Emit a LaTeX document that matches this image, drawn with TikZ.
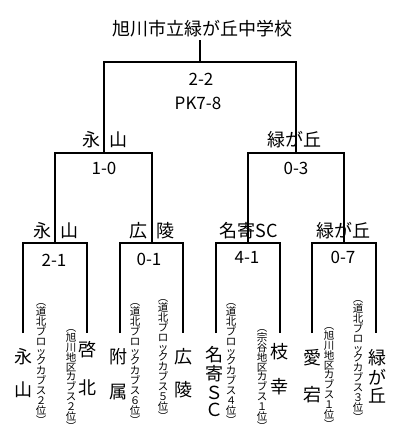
\documentclass[tikz,border=0pt]{standalone}
\usepackage{fontspec}
\setmainfont{Noto Sans CJK JP}
\begin{document}
\begin{tikzpicture}[x=1pt,y=-1pt,line width=1.1pt,
  big/.style={font=\fontsize{18}{18}\selectfont,inner sep=0},
  score/.style={font=\fontsize{17}{17}\selectfont,inner sep=0},
  anno/.style={font=\fontsize{10.5}{9.9}\selectfont,inner sep=0,align=center}]
\useasboundingbox (0,0) rectangle (410,439);
% title
\node[big] (title) at (202,29) {旭川市立緑が丘中学校};
\coordinate (t0) at (200,40);
\coordinate (f) at (200,62);
\coordinate (fL) at (104,62);
\coordinate (fR) at (296,62);
\coordinate (sL) at (104,153);
\coordinate (sR) at (296,153);
\draw (t0) -- (f);
\draw (sL) -- (fL) -- (fR) -- (sR);
\node[score] (s0) at (201,79) {2-2};
\node[score] (s0b) at (198,103) {PK7-8};
\node[big] (w1) at (105,140) {永\hspace{9pt}山};
\node[big] (w2) at (294,140) {緑が丘};
% level 2
\coordinate (aL) at (55,153);
\coordinate (aR) at (152,153);
\coordinate (bL) at (248,153);
\coordinate (bR) at (344,153);
\coordinate (aL2) at (55,243);
\coordinate (aR2) at (152,243);
\coordinate (bL2) at (248,243);
\coordinate (bR2) at (344,243);
\draw (aL2) -- (aL) -- (aR) -- (aR2);
\draw (bL2) -- (bL) -- (bR) -- (bR2);
\node[score] (s1) at (104,168) {1-0};
\node[score] (s2) at (296,168) {0-3};
\node[big] (w3) at (56,231) {永\hspace{9pt}山};
\node[big] (w4) at (152,231) {広\hspace{9pt}陵};
\node[big] (w5) at (249,231) {名寄SC};
\node[big] (w6) at (343,231) {緑が丘};
% level 3
\foreach \a/\b/\n in {23/87/1,120/183/2,216/280/3,312/376/4}{
  \coordinate (c\n L) at (\a,243);
  \coordinate (c\n R) at (\b,243);
  \coordinate (c\n Lb) at (\a,333);
  \coordinate (c\n Rb) at (\b,333);
  \draw (c\n Lb) -- (c\n L) -- (c\n R) -- (c\n Rb);
}
\node[score] (s3) at (54,260) {2-1};
\node[score] (s4) at (149,259) {0-1};
\node[score] (s5) at (247,257) {4-1};
\node[score] (s6) at (343,257) {0-7};
% teams
\node[big] (n1a) at (23,357) {永};
\node[big] (n1b) at (23,390) {山};
\node[anno] (a1) at (41,364) {︵\\道\\北\\ブ\\ロ\\ッ\\ク\\カ\\ブ\\ス\\２\\位\\︶};
\node[big] (n2a) at (87,350) {啓};
\node[big] (n2b) at (87,388) {北};
\node[anno] (a2) at (71,380) {︵\\旭\\川\\地\\区\\カ\\ブ\\ス\\２\\位\\︶};
\node[big] (n3a) at (118,357) {附};
\node[big] (n3b) at (118,392) {属};
\node[anno] (a3) at (135,364) {︵\\道\\北\\ブ\\ロ\\ッ\\ク\\カ\\ブ\\ス\\６\\位\\︶};
\node[big] (n4a) at (183,357) {広};
\node[big] (n4b) at (183,390) {陵};
\node[anno] (a4) at (163,360) {︵\\道\\北\\ブ\\ロ\\ッ\\ク\\カ\\ブ\\ス\\５\\位\\︶};
\node[big] (n5a) at (214,355) {名};
\node[big] (n5b) at (214,374) {寄};
\node[big] (n5c) at (214,393) {Ｓ};
\node[big] (n5d) at (214,410) {Ｃ};
\node[anno] (a5) at (231,364) {︵\\道\\北\\ブ\\ロ\\ッ\\ク\\カ\\ブ\\ス\\４\\位\\︶};
\node[big] (n6a) at (279,352) {枝};
\node[big] (n6b) at (279,387) {幸};
\node[anno] (a6) at (262,380) {︵\\宗\\谷\\地\\区\\カ\\ブ\\ス\\１\\位\\︶};
\node[big] (n7a) at (312,358) {愛};
\node[big] (n7b) at (312,395) {宕};
\node[anno] (a7) at (329,378) {︵\\旭\\川\\地\\区\\カ\\ブ\\ス\\１\\位\\︶};
\node[big] (n8a) at (377,358) {緑};
\node[big] (n8b) at (377,377) {が};
\node[big] (n8c) at (377,395) {丘};
\node[anno] (a8) at (358,361) {︵\\道\\北\\ブ\\ロ\\ッ\\ク\\カ\\ブ\\ス\\３\\位\\︶};
\end{tikzpicture}
\end{document}
